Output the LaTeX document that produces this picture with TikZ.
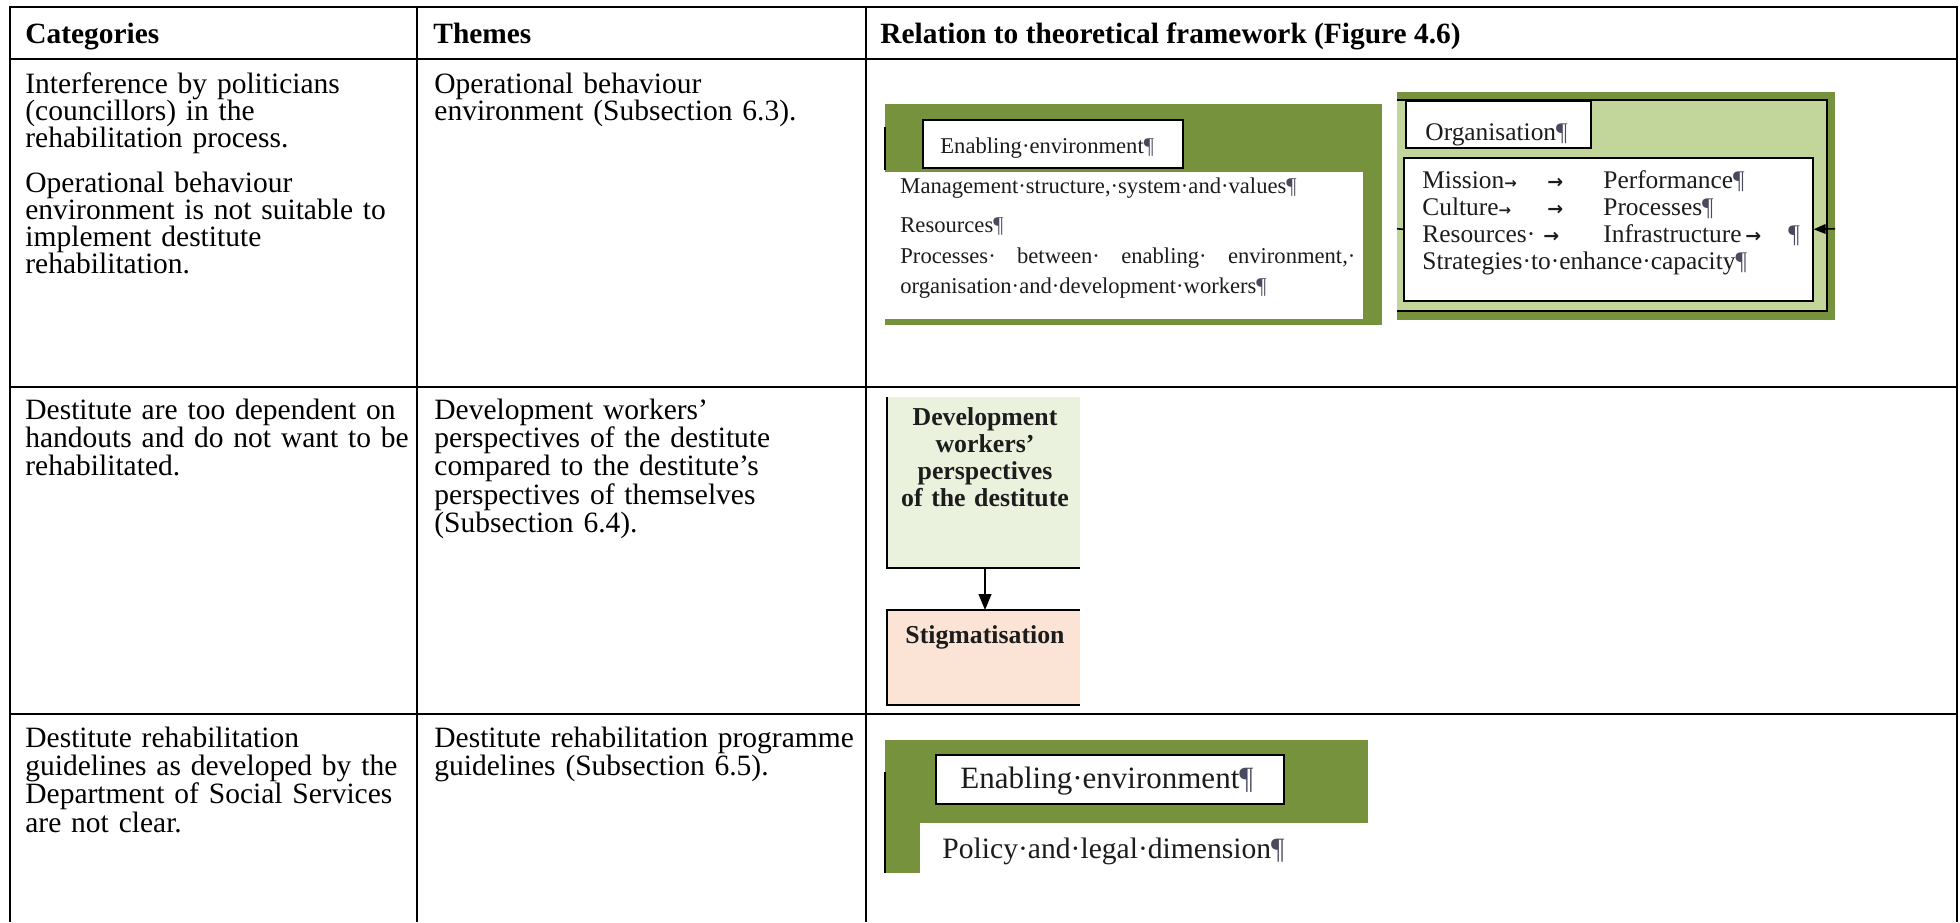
\documentclass[tikz,border=0pt]{standalone}
\usepackage{fontspec}
\setmainfont{Liberation Serif}
\newfontfamily\arrowfont{DejaVu Sans}
\usetikzlibrary{arrows.meta}

\definecolor{frameolive}{HTML}{76923C}
\definecolor{lightolive}{HTML}{C2D69B}
\definecolor{palegreen}{HTML}{EAF1DD}
\definecolor{peach}{HTML}{FBE4D5}
\definecolor{figtext}{HTML}{1C1C1C}
\definecolor{pilcol}{HTML}{4A4A5E}

% Word paragraph mark and tab arrow
\newcommand\pilc{{\color{pilcol}¶}}
\newcommand\tabarrow[1]{{\arrowfont\bfseries\fontsize{#1}{#1}\selectfont →}}

\begin{document}
\begin{tikzpicture}[x=0.5pt,y=-0.5pt,
  rule/.style={line width=1pt},
  head/.style={anchor=base west, inner sep=0pt, font=\bfseries\fontsize{14.7}{16}\selectfont},
  cell/.style={anchor=base west, inner sep=0pt, align=left, text width=#1},
  cell/.default=200pt,
  figtxt/.style={anchor=base west, inner sep=0pt, text=figtext},
  smallfig/.style={figtxt, font=\fontsize{11.3}{12}\selectfont},
  orgfig/.style={figtxt, font=\fontsize{12.7}{13}\selectfont},
  bigfig/.style={figtxt, font=\fontsize{14.8}{15}\selectfont},
  boldfig/.style={inner sep=0pt, text=figtext, font=\bfseries\fontsize{12.9}{13.6}\selectfont},
  titlebox/.style={draw=black, fill=white, line width=0.9pt, anchor=north west, inner sep=0pt},
  edge/.style={line width=0.8pt},
  tip/.style={line width=0.8pt, -{Triangle[length=#1, width=0.8*#1]}}
]
\fill[white] (0,0) rectangle (1960,922);
\useasboundingbox (0,0) rectangle (1960,922);

% ---------------- table rules ----------------
\draw[rule] (10,922) -- (10,7) -- (1957,7) -- (1957,922);
\draw[rule] (417,7) -- (417,922);
\draw[rule] (866,7) -- (866,922);
\draw[rule] (10,59) -- (1957,59);
\draw[rule] (10,387) -- (1957,387);
\draw[rule] (10,714) -- (1957,714);

% ---------------- header ----------------
\node[head] (hcat) at (25,43) {Categories};
\node[head] (hthe) at (433,43) {Themes};
\node[head] (hrel) at (880,43) {Relation to theoretical framework (Figure 4.6)};

% ---------------- row 1 ----------------
\node[cell, font=\fontsize{14.75}{13.5}\selectfont] (catA) at (25,93)
  {Interference by politicians\\(councillors) in the\\rehabilitation process.\\[9pt]
   Operational behaviour\\environment is not suitable to\\implement destitute\\rehabilitation.};
\node[cell=220pt, font=\fontsize{14.75}{13.5}\selectfont] (theA) at (434,93)
  {Operational behaviour\\environment (Subsection 6.3).};

% enabling environment panel
\fill[frameolive] (885,104) rectangle (1382,325);
\fill[white] (885,172) rectangle (1363,319);
\draw[line width=1pt] (885,127) -- (885,170);
\node[titlebox, minimum width=130pt, minimum height=24pt] (enabA) at (922,119) {};
\node[smallfig] (enabAt) at (940,153) {Enabling·environment\pilc};
\node[smallfig] (mgmt) at (900,193) {Management·structure,·system·and·values\pilc};
\node[smallfig] (resA) at (900,232) {Resources\pilc};
\node[smallfig] (procA) at (900,263)
  {\hbox to 227.5pt{Processes·\hfill between·\hfill enabling·\hfill environment,·}};
\node[smallfig] (orgdev) at (900,293) {organisation·and·development·workers\pilc};

% organisation panel
\fill[frameolive] (1397,92) rectangle (1835,320);
\fill[lightolive] (1397,100) rectangle (1827,311);
\draw[edge] (1397,100) -- (1827,100) -- (1827,311) -- (1397,311);
\node[titlebox, line width=0.8pt, minimum width=92.5pt, minimum height=23.5pt] (orgtitle) at (1405,100) {};
\node[orgfig] (orgt) at (1425,140) {Organisation\pilc};
\node[titlebox, line width=0.8pt, minimum width=204.5pt, minimum height=71.5pt] (orgbody) at (1403,157) {};
\coordinate (orgleft) at (1397,228.75);
\coordinate (orgright) at (1835,228.75);
\draw[edge] (orgleft) -- (orgbody.west);
\draw[tip=6pt] (orgright) -- (orgbody.east);

\node[orgfig] (mis) at (1422,188) {Mission\tabarrow{7.5}};
\node[orgfig] (misarr) at (1547,188) {\tabarrow{9.5}};
\node[orgfig] (perf) at (1603,188) {Performance\pilc};
\node[orgfig] (cul) at (1422,215) {Culture\tabarrow{7.5}};
\node[orgfig] (cularr) at (1547,215) {\tabarrow{9.5}};
\node[orgfig] (proc) at (1603,215) {Processes\pilc};
\node[orgfig] (res) at (1422,242) {Resources·};
\node[orgfig] (resarr) at (1543,242) {\tabarrow{9.5}};
\node[orgfig] (infra) at (1603,242) {Infrastructure};
\node[orgfig] (infarr) at (1745,242) {\tabarrow{9.5}};
\node[orgfig] (infpil) at (1788,242) {\pilc};
\node[orgfig] (strat) at (1422,269) {Strategies·to·enhance·capacity\pilc};

% ---------------- row 2 ----------------
\node[cell, font=\fontsize{14.75}{14.2}\selectfont] (catB) at (25,419)
  {Destitute are too dependent on\\handouts and do not want to be\\rehabilitated.};
\node[cell=220pt, font=\fontsize{14.75}{14.2}\selectfont] (theB) at (434,419)
  {Development workers’\\perspectives of the destitute\\compared to the destitute’s\\perspectives of themselves\\(Subsection 6.4).};

\fill[palegreen] (887,397) rectangle (1080,568);
\draw[edge] (887,397) -- (887,568) -- (1080,568);
\node[boldfig, anchor=base, text width=96pt, align=center] (devw) at (985,425)
  {Development\\workers’\\perspectives\\of the destitute};
\fill[peach] (887,610) rectangle (1080,705);
\draw[edge] (1080,610) -- (887,610) -- (887,705) -- (1080,705);
\node[boldfig, anchor=base] (stig) at (985,643) {Stigmatisation};
\coordinate (devbot) at (985,568);
\coordinate (stigtop) at (985,610);
\draw[tip=8pt] (devbot) -- (stigtop);

% ---------------- row 3 ----------------
\node[cell, font=\fontsize{14.75}{14.2}\selectfont] (catC) at (25,747)
  {Destitute rehabilitation\\guidelines as developed by the\\Department of Social Services\\are not clear.};
\node[cell=220pt, font=\fontsize{14.75}{14.2}\selectfont] (theC) at (434,747)
  {Destitute rehabilitation programme\\guidelines (Subsection 6.5).};

\fill[frameolive] (885,740) rectangle (1368,873);
\fill[white] (920,823) rectangle (1368,873);
\draw[line width=1pt] (885,772) -- (885,873);
\node[titlebox, line width=1pt, minimum width=174pt, minimum height=24.5pt] (enabC) at (935,754) {};
\node[bigfig, font=\fontsize{15.5}{16}\selectfont] (enabCt) at (960,788) {Enabling·environment\pilc};
\node[bigfig] (policy) at (942,858) {Policy·and·legal·dimension\pilc};
\end{tikzpicture}
\end{document}
